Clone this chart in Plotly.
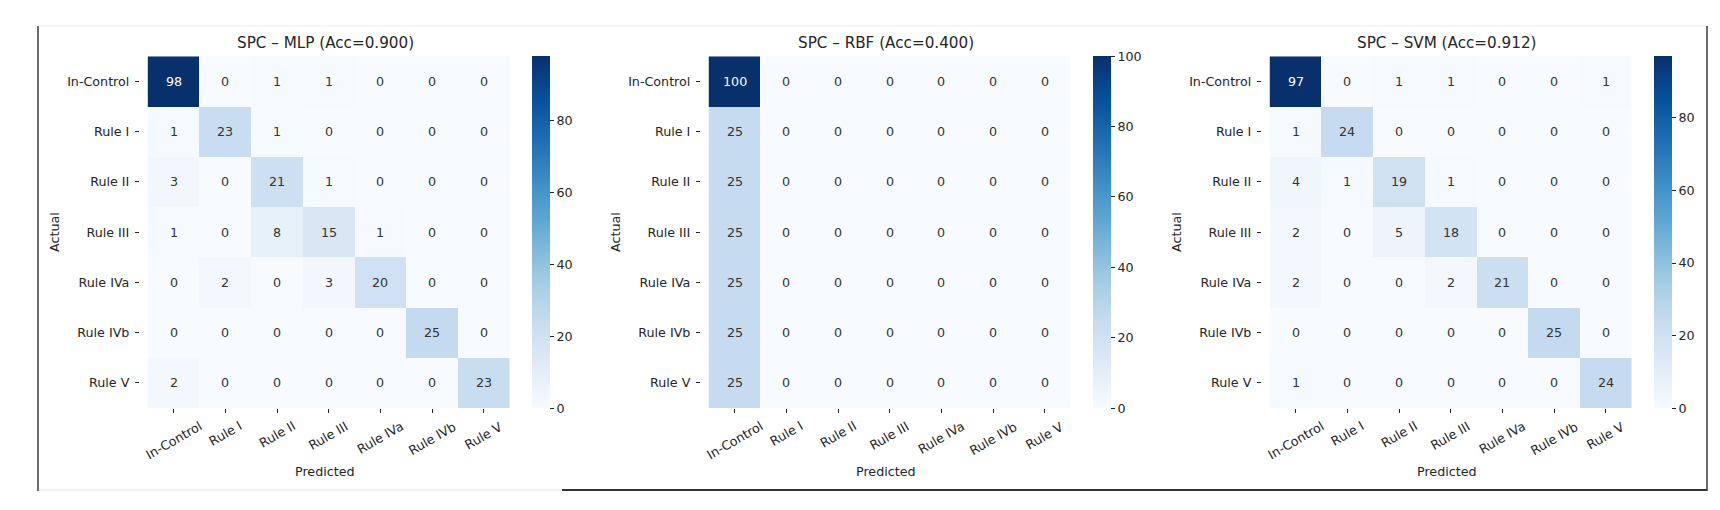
import plotly.graph_objects as go

# class labels (rows = actual, columns = predicted)
labels = ["In-Control", "Rule I", "Rule II", "Rule III", "Rule IVa", "Rule IVb", "Rule V"]

mlp_cm = [
    [98, 0, 1, 1, 0, 0, 0],
    [1, 23, 1, 0, 0, 0, 0],
    [3, 0, 21, 1, 0, 0, 0],
    [1, 0, 8, 15, 1, 0, 0],
    [0, 2, 0, 3, 20, 0, 0],
    [0, 0, 0, 0, 0, 25, 0],
    [2, 0, 0, 0, 0, 0, 23],
]
rbf_cm = [
    [100, 0, 0, 0, 0, 0, 0],
    [25, 0, 0, 0, 0, 0, 0],
    [25, 0, 0, 0, 0, 0, 0],
    [25, 0, 0, 0, 0, 0, 0],
    [25, 0, 0, 0, 0, 0, 0],
    [25, 0, 0, 0, 0, 0, 0],
    [25, 0, 0, 0, 0, 0, 0],
]
svm_cm = [
    [97, 0, 1, 1, 0, 0, 1],
    [1, 24, 0, 0, 0, 0, 0],
    [4, 1, 19, 1, 0, 0, 0],
    [2, 0, 5, 18, 0, 0, 0],
    [2, 0, 0, 2, 21, 0, 0],
    [0, 0, 0, 0, 0, 25, 0],
    [1, 0, 0, 0, 0, 0, 24],
]
titles = ["SPC – MLP (Acc=0.900)", "SPC – RBF (Acc=0.400)", "SPC – SVM (Acc=0.912)"]
matrices = [mlp_cm, rbf_cm, svm_cm]

# matplotlib "Blues"
blues = [
    [0.0, "#f7fbff"], [0.125, "#deebf7"], [0.25, "#c6dbef"], [0.375, "#9ecae1"],
    [0.5, "#6baed6"], [0.625, "#4292c6"], [0.75, "#2171b5"], [0.875, "#08519c"],
    [1.0, "#08306b"],
]

W, H = 1720, 510
FONT = "DejaVu Sans"
INK = "#262626"
FS = 12.7

# panel geometry in pixels
lefts = [132.3, 693.3, 1254.3]
pw = 369.4
top_px, bot_px = 48.3, 400.0


def fx(v):
    return v / W


def fy(v):
    return 1 - v / H


fig = go.Figure()
annotations = []

for i, (title, cm) in enumerate(zip(titles, matrices)):
    ax = "" if i == 0 else str(i + 1)
    zmax = max(max(r) for r in cm)
    x0 = lefts[i]

    fig.add_trace(go.Heatmap(
        z=cm, x=labels, y=labels,
        xaxis="x" + ax, yaxis="y" + ax,
        colorscale=blues, zmin=0, zmax=zmax,
        hoverinfo="x+y+z",
        colorbar=dict(
            x=fx(x0 + 391.7), xanchor="left", xpad=0,
            y=(fy(top_px) + fy(bot_px)) / 2, yanchor="middle", ypad=0,
            len=bot_px - top_px, lenmode="pixels",
            thickness=17.7, outlinewidth=0,
            tick0=0, dtick=20, ticks="outside", ticklen=4.4, tickwidth=1,
            tickcolor=INK, tickfont=dict(family=FONT, size=FS, color=INK),
        ),
    ))

    fig.update_layout({
        f"xaxis{ax}": dict(
            domain=[fx(x0), fx(x0 + pw)], anchor="y" + ax,
            showticklabels=False, ticks="outside", ticklen=4.4, tickwidth=1,
            tickcolor=INK, showgrid=False, zeroline=False, showline=False,
        ),
        f"yaxis{ax}": dict(
            domain=[fy(bot_px), fy(top_px)], anchor="x" + ax,
            autorange="reversed", ticks="outside", ticklen=4.4, tickwidth=1,
            tickcolor=INK, ticklabelstandoff=3,
            tickfont=dict(family=FONT, size=FS, color=INK),
            showgrid=False, zeroline=False, showline=False,
        ),
    })

    # cell values
    for r, row in enumerate(cm):
        for c, v in enumerate(row):
            annotations.append(dict(
                x=labels[c], y=labels[r], xref="x" + ax, yref="y" + ax,
                text=str(v), showarrow=False,
                font=dict(family=FONT, size=FS,
                          color="white" if v > 0.6 * zmax else "#333333"),
            ))

    # rotated x tick labels, centred on the ticks
    for lab in labels:
        annotations.append(dict(
            x=lab, xref="x" + ax, y=0, yref=f"y{ax} domain",
            yanchor="top", xanchor="center", yshift=-8, textangle=-30,
            text=lab, showarrow=False,
            font=dict(family=FONT, size=FS, color=INK),
        ))

    annotations.append(dict(
        x=0.5, xref=f"x{ax} domain", y=fy(35), yref="paper",
        text=title, showarrow=False, yanchor="middle",
        font=dict(family=FONT, size=15.2, color=INK),
    ))
    annotations.append(dict(
        x=0.5, xref=f"x{ax} domain", y=fy(463), yref="paper",
        text="Predicted", showarrow=False, yanchor="middle",
        font=dict(family=FONT, size=FS, color=INK),
    ))
    annotations.append(dict(
        x=0, xref=f"x{ax} domain", xshift=-86.5, y=0.5, yref=f"y{ax} domain",
        text="Actual", showarrow=False, textangle=-90,
        xanchor="center", yanchor="middle",
        font=dict(family=FONT, size=FS, color=INK),
    ))

# screenshot frame lines
frame = dict(xref="paper", yref="paper", type="line")
shapes = [
    dict(frame, x0=fx(30), x1=fx(1699), y0=fy(18), y1=fy(18),
         line=dict(color="#ececec", width=1)),
    dict(frame, x0=fx(30), x1=fx(554), y0=fy(482), y1=fy(482),
         line=dict(color="#eeeeee", width=1.5)),
    dict(frame, x0=fx(554), x1=fx(1699), y0=fy(482), y1=fy(482),
         line=dict(color="#333333", width=2)),
    dict(frame, x0=fx(30), x1=fx(30), y0=fy(18), y1=fy(483),
         line=dict(color="#3a3a3a", width=1.5)),
    dict(frame, x0=fx(1699), x1=fx(1699), y0=fy(18), y1=fy(483),
         line=dict(color="#3a3a3a", width=1.5)),
]

fig.update_layout(
    width=W, height=H,
    margin=dict(l=0, r=0, t=0, b=0),
    paper_bgcolor="white", plot_bgcolor="white",
    font=dict(family=FONT, size=FS, color=INK),
    annotations=annotations, shapes=shapes,
    showlegend=False,
)

fig.write_html("out.html")
